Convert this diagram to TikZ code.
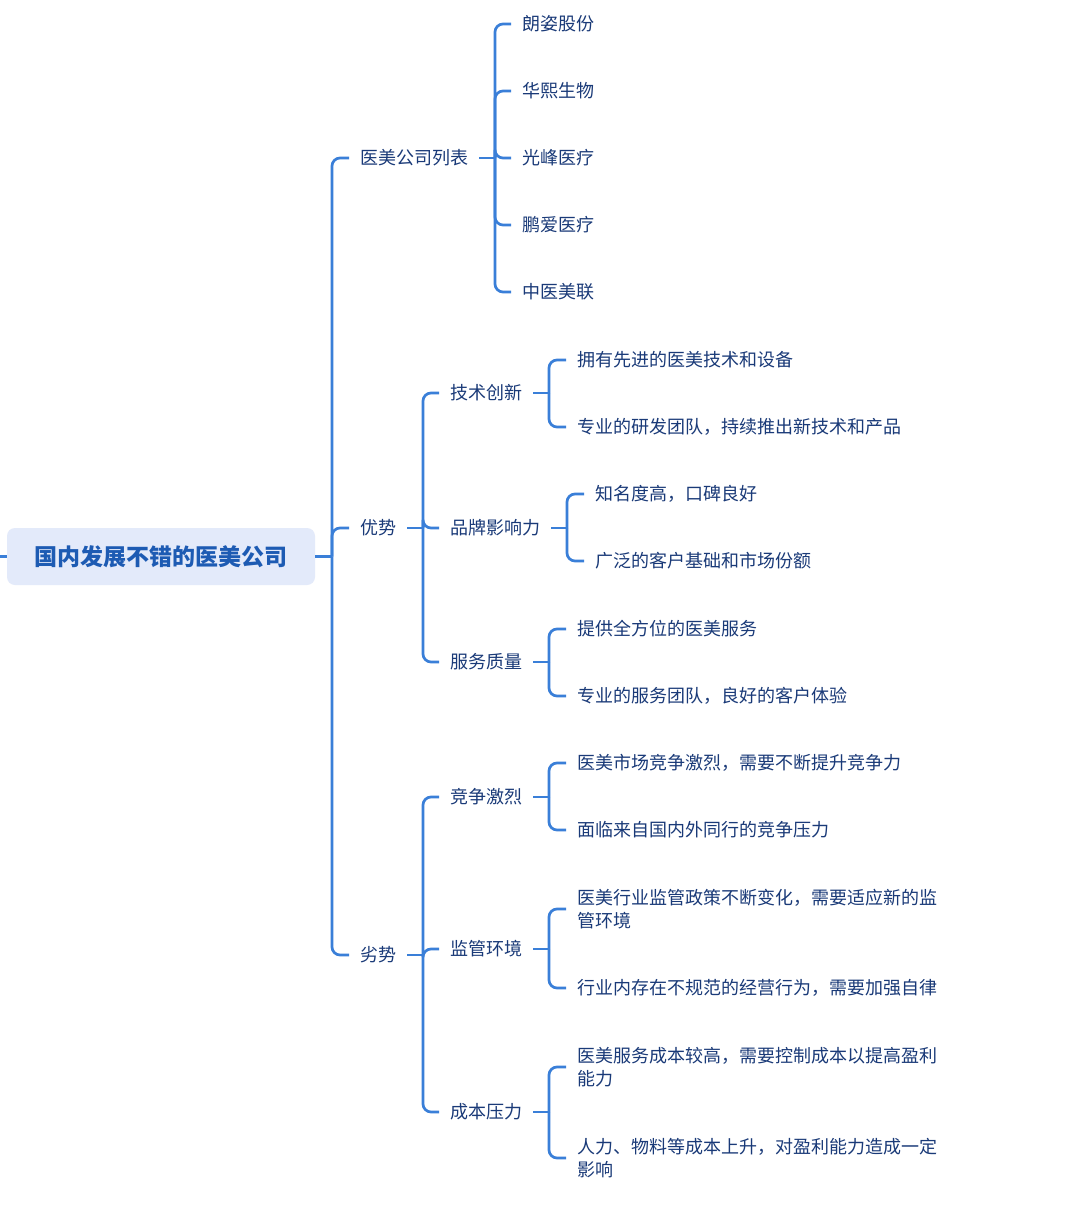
\documentclass[tikz,border=0pt]{standalone}
\usepackage{fontspec}
\setmainfont{Noto Sans CJK SC}
\definecolor{linec}{HTML}{3A7FD8}
\definecolor{txtc}{HTML}{1A3A78}
\definecolor{rootfill}{HTML}{E3EAFA}
\definecolor{roottxt}{HTML}{1D5BB3}
\begin{document}
\begin{tikzpicture}[x=1pt,y=-1pt,
  conn/.style={draw=linec, line width=2.7pt, rounded corners=8pt},
  lbl/.style={anchor=west, inner xsep=11pt, inner ysep=0pt, text=txtc, font=\fontsize{18}{23.5}\selectfont},
  wrap/.style={lbl, align=left}]
\useasboundingbox[fill=white] (0,0) rectangle (1080,1218);

% root
\node[fill=rootfill, rounded corners=8pt, minimum width=308pt, minimum height=57pt, inner sep=0pt,
      text=roottxt, font=\fontsize{23}{28}\selectfont\bfseries] (root) at (161,556.5) {国内发展不错的医美公司};
\coordinate (edge) at (0,556.5);
\draw[conn] (edge) -- (root.west);

% level 1
\node[lbl] (A) at (349,158) {医美公司列表};
\node[lbl] (B) at (349,528) {优势};
\node[lbl] (C) at (349,955) {劣势};

% companies
\node[lbl] (A1) at (511,24) {朗姿股份};
\node[lbl] (A2) at (511,91) {华熙生物};
\node[lbl] (A3) at (511,158) {光峰医疗};
\node[lbl] (A4) at (511,225) {鹏爱医疗};
\node[lbl] (A5) at (511,292) {中医美联};

% advantages
\node[lbl] (B1) at (439,393) {技术创新};
\node[lbl] (B2) at (439,528) {品牌影响力};
\node[lbl] (B3) at (439,662) {服务质量};
\node[lbl] (B11) at (566,360) {拥有先进的医美技术和设备};
\node[lbl] (B12) at (566,427) {专业的研发团队，持续推出新技术和产品};
\node[lbl] (B21) at (584,494) {知名度高，口碑良好};
\node[lbl] (B22) at (584,561) {广泛的客户基础和市场份额};
\node[lbl] (B31) at (566,629) {提供全方位的医美服务};
\node[lbl] (B32) at (566,696) {专业的服务团队，良好的客户体验};

% disadvantages
\node[lbl] (C1) at (439,797) {竞争激烈};
\node[lbl] (C2) at (439,949) {监管环境};
\node[lbl] (C3) at (439,1112) {成本压力};
\node[lbl] (C11) at (566,763) {医美市场竞争激烈，需要不断提升竞争力};
\node[lbl] (C12) at (566,830) {面临来自国内外同行的竞争压力};
\node[wrap] (C21) at (566,909) {医美行业监管政策不断变化，需要适应新的监\\管环境};
\node[lbl] (C22) at (566,988) {行业内存在不规范的经营行为，需要加强自律};
\node[wrap] (C31) at (566,1067) {医美服务成本较高，需要控制成本以提高盈利\\能力};
\node[wrap] (C32) at (566,1158) {人力、物料等成本上升，对盈利能力造成一定\\影响};

% junctions
\coordinate (j0) at (332,556.5);
\coordinate (jA) at (495,158);
\coordinate (jB) at (423,528);
\coordinate (jC) at (423,955);
\coordinate (jB1) at (549,393);
\coordinate (jB2) at (567,528);
\coordinate (jB3) at (549,662);
\coordinate (jC1) at (549,797);
\coordinate (jC2) at (549,949);
\coordinate (jC3) at (549,1112);

% connectors
\draw[conn] (root.east) -- (j0);
\foreach \c in {A,B,C} \draw[conn] (j0) |- (\c.west);

\draw[conn] (A.east) -- (jA);
\foreach \c in {A1,A2,A3,A4,A5} \draw[conn] (jA) |- (\c.west);

\draw[conn] (B.east) -- (jB);
\foreach \c in {B1,B2,B3} \draw[conn] (jB) |- (\c.west);
\draw[conn] (C.east) -- (jC);
\foreach \c in {C1,C2,C3} \draw[conn] (jC) |- (\c.west);

\draw[conn] (B1.east) -- (jB1);
\foreach \c in {B11,B12} \draw[conn] (jB1) |- (\c.west);
\draw[conn] (B2.east) -- (jB2);
\foreach \c in {B21,B22} \draw[conn] (jB2) |- (\c.west);
\draw[conn] (B3.east) -- (jB3);
\foreach \c in {B31,B32} \draw[conn] (jB3) |- (\c.west);

\draw[conn] (C1.east) -- (jC1);
\foreach \c in {C11,C12} \draw[conn] (jC1) |- (\c.west);
\draw[conn] (C2.east) -- (jC2);
\foreach \c in {C21,C22} \draw[conn] (jC2) |- (\c.west);
\draw[conn] (C3.east) -- (jC3);
\foreach \c in {C31,C32} \draw[conn] (jC3) |- (\c.west);
\end{tikzpicture}
\end{document}
